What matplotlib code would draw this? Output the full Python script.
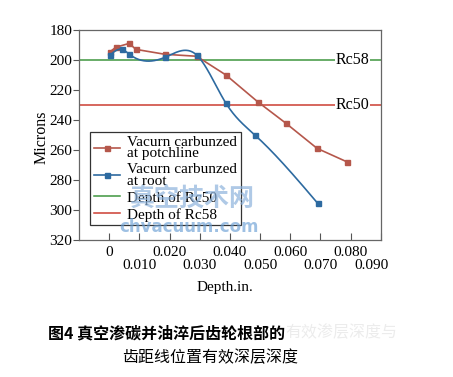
import numpy as np
import matplotlib.pyplot as plt
from matplotlib.transforms import ScaledTranslation

# data
depth_potch = [0.0003, 0.0022, 0.0067, 0.0088, 0.0185, 0.0290, 0.0387, 0.0492, 0.0586, 0.0689, 0.0787]
microns_potch = [194.5, 191.5, 188.9, 192.9, 196.2, 197.5, 210.0, 227.8, 242.2, 258.9, 267.8]

depth_root = [0.0003, 0.0042, 0.0067, 0.0185, 0.0290, 0.0386, 0.0483, 0.0691]
microns_root = [196.7, 192.9, 196.2, 198.2, 196.7, 228.5, 250.0, 295.5]

rc58_level = 200
rc50_level = 230

x_ticks = [0, 0.01, 0.02, 0.03, 0.04, 0.05, 0.06, 0.07, 0.08, 0.09]
x_labels = ["0", "0.010", "0.020", "0.030", "0.040", "0.050", "0.060", "0.070", "0.080", "0.090"]
y_ticks = [180, 200, 220, 240, 260, 280, 300, 320]

RED = "#b5574b"
BLUE = "#2d6aa0"
GREEN = "#3f963f"
RED_H = "#cc3d32"


def natural_spline(x, y, n=400):
    x = np.asarray(x, float)
    y = np.asarray(y, float)
    m = len(x)
    h = np.diff(x)
    A = np.zeros((m, m))
    b = np.zeros(m)
    A[0, 0] = A[-1, -1] = 1
    for i in range(1, m - 1):
        A[i, i - 1] = h[i - 1]
        A[i, i] = 2 * (h[i - 1] + h[i])
        A[i, i + 1] = h[i]
        b[i] = 3 * ((y[i + 1] - y[i]) / h[i] - (y[i] - y[i - 1]) / h[i - 1])
    c = np.linalg.solve(A, b)
    xs = np.linspace(x[0], x[-1], n)
    idx = np.clip(np.searchsorted(x, xs) - 1, 0, m - 2)
    dx = xs - x[idx]
    bb = (y[1:] - y[:-1]) / h - h * (2 * c[:-1] + c[1:]) / 3
    dd = (c[1:] - c[:-1]) / (3 * h)
    ys = y[idx] + bb[idx] * dx + c[idx] * dx ** 2 + dd[idx] * dx ** 3
    return xs, ys


plt.rcParams["font.family"] = ["Liberation Serif", "DejaVu Serif"]
plt.rcParams["font.size"] = 11

fig = plt.figure(figsize=(4.53, 3.77), dpi=100)
ax = fig.add_axes([79 / 453, 1 - 240 / 377, 301.7 / 453, 210 / 377])

ax.plot(depth_potch, microns_potch, color=RED, lw=1.2, marker="s", ms=3.6,
        label="Vacurn carbunzed\nat potchline", zorder=4)

xs, ys = natural_spline(depth_root, microns_root)
ax.plot(xs, ys, color=BLUE, lw=1.2, zorder=4)
ax.plot(depth_root, microns_root, color=BLUE, lw=1.2, ls="none", marker="s", ms=3.6, zorder=5)
# proxy for legend (line + marker)
ax.plot([], [], color=BLUE, lw=1.2, marker="s", ms=3.6, label="Vacurn carbunzed\nat root")

ax.axhline(rc58_level, color=GREEN, lw=1.1, label="Depth of Rc50", zorder=2)
ax.axhline(rc50_level, color=RED_H, lw=1.1, label="Depth of Rc58", zorder=2)

ax.text(0.0808, rc58_level, "Rc58", ha="center", va="center", fontsize=11.5,
        bbox=dict(facecolor="white", edgecolor="none", pad=0.5), zorder=3)
ax.text(0.0808, rc50_level, "Rc50", ha="center", va="center", fontsize=11.5,
        bbox=dict(facecolor="white", edgecolor="none", pad=0.5), zorder=3)

ax.set_xlim(-0.01, 0.09)
ax.set_ylim(320, 180)
ax.set_yticks(y_ticks)

ax.set_xticks(x_ticks[0::2])
ax.set_xticklabels(x_labels[0::2])
ax.set_xticks(x_ticks[1::2], minor=True)
ax.set_xticklabels(x_labels[1::2], minor=True)
ax.tick_params(axis="x", which="both", direction="in", length=5, width=0.8, color="#555555", labelsize=11)
ax.tick_params(axis="x", which="major", pad=4)
ax.tick_params(axis="x", which="minor", pad=14)
ax.tick_params(axis="y", direction="out", length=4, width=0.8, color="#555555", pad=1, labelsize=11)

for s in ax.spines.values():
    s.set_color("#666666")
    s.set_linewidth(0.9)

ax.set_ylabel("Microns", fontsize=11.5)
ax.yaxis.set_label_coords(-0.097, 0.49)
ax.set_xlabel("Depth.in.", fontsize=11)
ax.xaxis.set_label_coords(0.484, -0.195)

leg = ax.legend(loc="upper left", bbox_to_anchor=(0.0365, 0.514), borderaxespad=0,
                fancybox=False, edgecolor="#333333", framealpha=1, fontsize=11,
                handlelength=1.7, handletextpad=0.5, labelspacing=0.2, borderpad=0.25)
leg.get_frame().set_linewidth(0.9)
for t in leg.get_texts():
    t.set_linespacing(0.85)

fig.canvas.draw()
last = ax.get_xticklabels(minor=True)[-1]
last.set_transform(last.get_transform() + ScaledTranslation(-9 / 100, 0, fig.dpi_scale_trans))

# watermark
fig.text(0.424, 0.469, "真空技术网", fontsize=18, fontweight="bold", color="#8db3dc", alpha=0.7,
         ha="center", va="center", family=["Noto Sans CJK SC", "DejaVu Sans"])
fig.text(0.417, 0.398, "chvacuum.com", fontsize=12, fontweight="bold", color="#6a9fd4", alpha=0.65,
         ha="center", va="center", family=["DejaVu Sans"])

# caption
cap = fig.text(48 / 453, 1 - 333 / 377, "图4 真空渗碳并油淬后齿轮根部的", fontsize=11.5, fontweight="bold",
               ha="left", va="center", family=["Noto Sans CJK SC", "DejaVu Sans"])
ax.annotate("有效渗层深度与", xy=(1, 0.5), xycoords=cap, ha="left", va="center", fontsize=11.5,
            color="#ececec", family=["Noto Sans CJK SC", "DejaVu Sans"], annotation_clip=False)
fig.text(210 / 453, 1 - 358 / 377, "齿距线位置有效深层深度", fontsize=11.5,
         ha="center", va="center", family=["Noto Sans CJK SC", "DejaVu Sans"])

fig.savefig("out.png", dpi=100)
